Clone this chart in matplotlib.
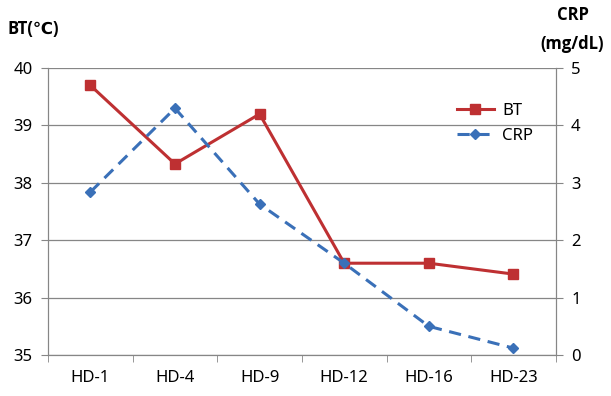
import numpy as np
import matplotlib.pyplot as plt

plt.rcParams['font.family'] = ['Noto Sans', 'DejaVu Sans']

days = ['HD-1', 'HD-4', 'HD-9', 'HD-12', 'HD-16', 'HD-23']
bt = [39.7, 38.33, 39.2, 36.6, 36.6, 36.41]
crp = [2.84, 4.30, 2.63, 1.60, 0.50, 0.12]

grey = '#868686'
x = np.arange(len(days))

fig = plt.figure(figsize=(6.11, 3.96), dpi=100)
ax = fig.add_axes([0.0786, 0.1035, 0.831, 0.7245])
ax2 = ax.twinx()

l1, = ax.plot(x, bt, color='#be3032', lw=2.2, marker='s', ms=7, label='BT')
l2, = ax2.plot(x, crp, color='#3a70b8', lw=2.2, ls=(0, (4, 2.5)), marker='D', ms=5.5, label='CRP')

ax.set_xlim(-0.5, len(days) - 0.5)
ax.set_ylim(35, 40)
ax2.set_ylim(0, 5)
ax.set_yticks(range(35, 41))
ax2.set_yticks(range(0, 6))
ax.yaxis.grid(True, color=grey, lw=0.9)
ax.set_axisbelow(True)

ax.set_xticks(x)
ax.set_xticklabels(days)
ax.set_xticks(np.arange(-0.5, len(days)), minor=True)
ax.tick_params(axis='x', which='major', length=0, pad=11, labelsize=12)
ax.tick_params(axis='x', which='minor', length=5, color=grey)
ax.tick_params(axis='y', length=5, color=grey, labelsize=12, pad=6)
ax2.tick_params(axis='y', length=5, color=grey, labelsize=12, pad=6)

for a in (ax, ax2):
    a.spines['top'].set_visible(False)
    for s in ('left', 'right', 'bottom'):
        a.spines[s].set_color(grey)

bold = dict(fontsize=12, fontweight='bold', family=['Open Sans', 'DejaVu Sans'])
fig.text(0.012, 0.927, 'BT(℃)', ha='left', va='center', **bold)
fig.text(0.937, 0.962, 'CRP', ha='center', va='center', **bold)
fig.text(0.937, 0.89, '(mg/dL)', ha='center', va='center', **bold)

ax.legend(handles=[l1, l2], loc='upper right', bbox_to_anchor=(0.985, 0.93), frameon=False,
          fontsize=12, handlelength=2.2, handletextpad=0.5, labelspacing=0.5)

plt.savefig('out.png', dpi=100)
plt.close()
